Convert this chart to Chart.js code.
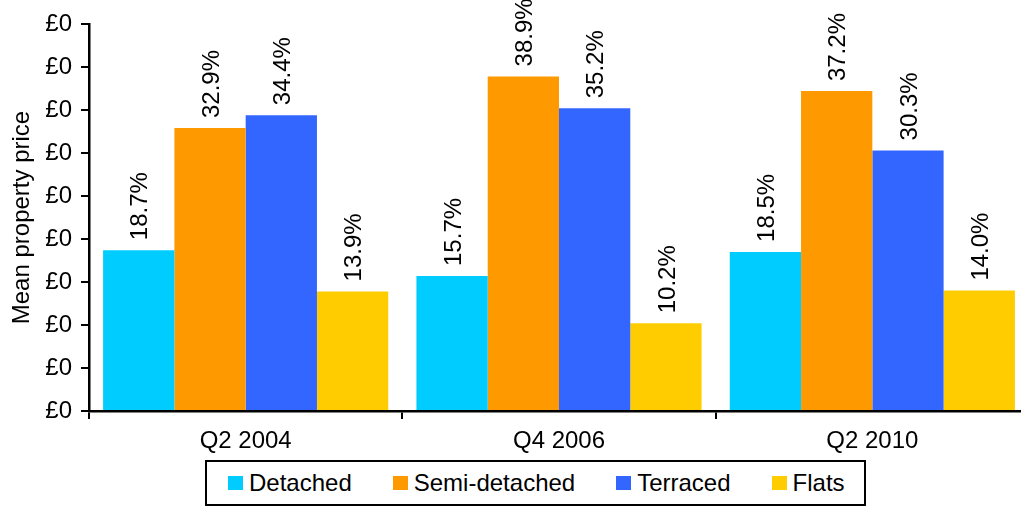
<!DOCTYPE html>
<html>
<head>
<meta charset="utf-8">
<title>Mean property price by dwelling type</title>
<script src="https://cdn.jsdelivr.net/npm/chart.js@4/dist/chart.umd.min.js"></script>
<style>
  html, body { margin: 0; padding: 0; background: #fff; overflow: hidden; }
  #wrap { position: absolute; left: 0; top: 0; width: 1029px; height: 507px; }
  #legend {
    position: absolute; left: 205px; top: 460px; width: 661px; height: 46px;
    box-sizing: border-box; border: 2.5px solid #000; background: #fff;
    display: flex; align-items: center; padding-left: 21px;
    font: 24px "Liberation Sans", Arial, sans-serif; color: #000;
  }
  #legend .item { display: flex; align-items: center; margin-right: 41px; white-space: nowrap; }
  #legend .sw { width: 15px; height: 14px; margin-right: 6px; }
</style>
</head>
<body>
<div id="wrap"><canvas id="c"></canvas></div>
<div id="legend"></div>
<script>
// Quarters shown on the x axis
const categories = ['Q2 2004', 'Q4 2006', 'Q2 2010'];

// Share for each dwelling type (%)
const detached = [18.7, 15.7, 18.5];
const semiDetached = [32.9, 38.9, 37.2];
const terraced = [34.4, 35.2, 30.3];
const flats = [13.9, 10.2, 14.0];

const seriesNames = ['Detached', 'Semi-detached', 'Terraced', 'Flats'];
const seriesColors = ['#00CCFF', '#FF9900', '#3366FF', '#FFCC00'];

// Value-axis tick labels, bottom to top
const yTickLabels = ['£0', '£0', '£0', '£0', '£0', '£0', '£0', '£0', '£0', '£0'];

const FONT = '"Liberation Sans", Arial, sans-serif';

// Rotated value labels above every bar
const barLabels = {
  id: 'barLabels',
  afterDatasetsDraw(chart) {
    const ctx = chart.ctx;
    ctx.save();
    ctx.font = '24px ' + FONT;
    ctx.fillStyle = '#000';
    ctx.textAlign = 'left';
    ctx.textBaseline = 'alphabetic';
    chart.data.datasets.forEach((ds, di) => {
      chart.getDatasetMeta(di).data.forEach((bar, i) => {
        const txt = ds.data[i].toFixed(1) + '%';
        ctx.save();
        ctx.translate(bar.x, bar.y);
        ctx.rotate(-Math.PI / 2);
        ctx.fillText(txt, 10, 8.6);
        ctx.restore();
      });
    });
    ctx.restore();
  }
};

const seriesData = [detached, semiDetached, terraced, flats];

new Chart(document.getElementById('c'), {
  type: 'bar',
  data: {
    labels: categories,
    datasets: seriesNames.map((name, k) => ({
      label: name,
      data: seriesData[k],
      backgroundColor: seriesColors[k],
      borderWidth: 0,
      categoryPercentage: 0.91,
      barPercentage: 1.0
    }))
  },
  options: {
    responsive: true,
    maintainAspectRatio: false,
    animation: false,
    devicePixelRatio: 1,
    layout: { padding: { top: 24, left: 0, right: 0, bottom: 0 } },
    plugins: {
      legend: { display: false },
      tooltip: { enabled: false }
    },
    scales: {
      x: {
        grid: { display: true, drawOnChartArea: false, drawTicks: true, tickLength: 8, color: '#000', lineWidth: 2, offset: true },
        border: { display: true, color: '#000', width: 2.5 },
        ticks: { color: '#000', font: { family: FONT, size: 24 }, padding: 8, maxRotation: 0 },
        afterFit(scale) { scale.height = 96; }
      },
      y: {
        min: 0,
        max: 45,
        grid: { display: true, drawOnChartArea: false, drawTicks: true, tickLength: 8, color: '#000', lineWidth: 2 },
        border: { display: true, color: '#000', width: 2.5 },
        ticks: {
          stepSize: 5,
          color: '#000',
          font: { family: FONT, size: 24 },
          padding: 9,
          callback: (v, i) => yTickLabels[i]
        },
        title: {
          display: true,
          text: 'Mean property price',
          color: '#000',
          font: { family: FONT, size: 24 },
          padding: { top: 8, bottom: 0 }
        },
        afterFit(scale) { scale.width = 89; }
      }
    }
  },
  plugins: [barLabels]
});

// Legend under the plot
const legend = document.getElementById('legend');
seriesNames.forEach((name, k) => {
  const item = document.createElement('div');
  item.className = 'item';
  const sw = document.createElement('span');
  sw.className = 'sw';
  sw.style.background = seriesColors[k];
  const tx = document.createElement('span');
  tx.textContent = name;
  item.appendChild(sw);
  item.appendChild(tx);
  legend.appendChild(item);
});
</script>
</body>
</html>
